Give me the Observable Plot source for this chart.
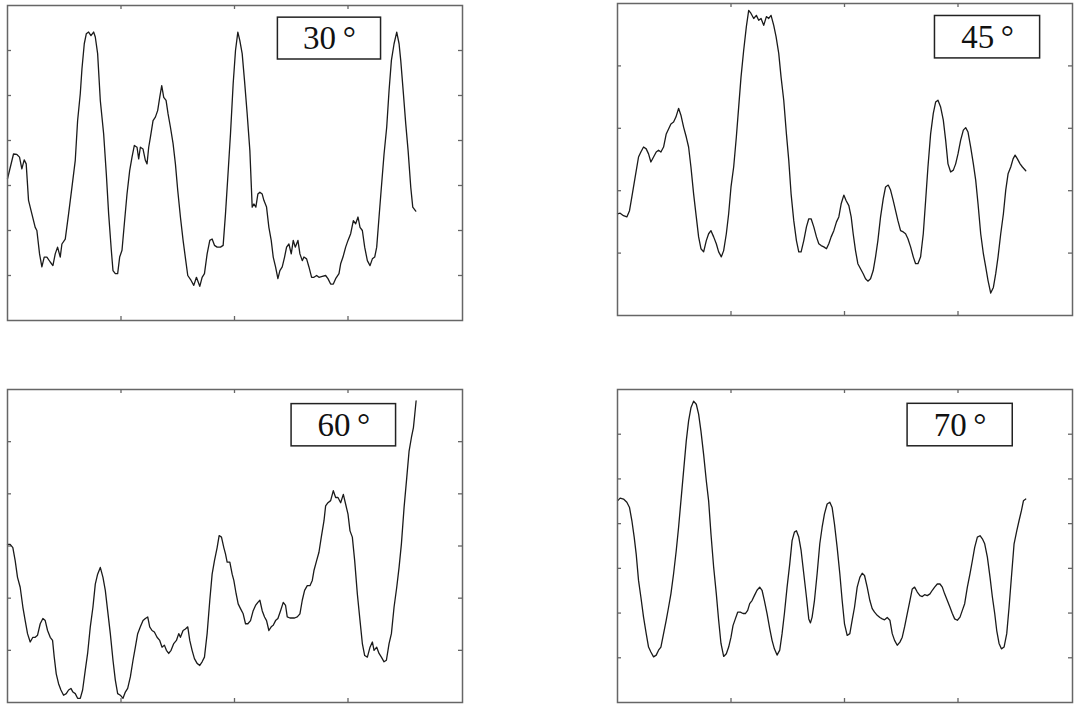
<!DOCTYPE html>
<html><head><meta charset="utf-8">
<script src="https://cdn.jsdelivr.net/npm/d3@7"></script>
<script src="https://cdn.jsdelivr.net/npm/@observablehq/plot@0.6"></script>
<style>
body{margin:0;background:#fff;}
#wrap{position:relative;width:1080px;height:711px;overflow:hidden;}
#wrap > svg{position:absolute;}
</style></head><body><div id="wrap"></div>
<script>
// Sample index (x) and amplitude (y)
const x30=[0,18,28,36,43,50,56,63,73,83,88,96,103,110,118,128,136,143,150,158,163,173,183,193,203,210,218,223,230,236,243,250,258,263,270,278,288,296,303,311,316,323,330,336,343,350,358,366,373,380,388,393,398,406,413,418,423,428,436,443,450,456,462,468,475,481,488,496,503,510,518,526,534,540,550,558,566,576,583,590,598,606,613,620,628,638,646,653,660,668,676,683,690,696,703,710,718,726,733,738,744,750,756,763,768,776,783,790,796,803,810,816,823,830,836,843,850,856,862,870,876,883,888,896,903,911,918,926,933,943,953,960,968,976,983,993,998,1005,1013,1020,1028,1036,1043,1050,1056,1063,1070,1078,1086,1093,1100,1106,1113,1120,1128,1136,1143,1150,1158,1166,1173,1178,1186,1193,1200,1208,1214,1223];
const y30=[3.15,3.70,3.69,3.63,3.37,3.57,3.48,2.67,2.37,2.07,2.00,1.48,1.19,1.41,1.41,1.30,1.22,1.48,1.63,1.41,1.70,1.81,2.37,2.96,3.56,4.44,5.04,5.59,6.15,6.37,6.41,6.33,6.41,6.30,5.93,4.89,4.15,3.26,2.37,1.56,1.11,1.04,1.04,1.41,1.56,2.15,2.81,3.33,3.63,3.89,3.85,3.59,3.85,3.81,3.56,3.48,3.85,4.07,4.44,4.52,4.67,4.96,5.22,4.96,4.89,4.59,4.30,3.93,3.48,2.89,2.30,1.78,1.33,1.00,0.89,0.78,0.96,0.76,0.96,1.04,1.48,1.78,1.81,1.67,1.63,1.63,1.67,2.37,3.19,4.15,5.26,6.00,6.41,6.22,5.93,5.33,4.59,3.78,2.52,2.59,2.52,2.81,2.85,2.81,2.67,2.52,2.07,1.78,1.41,1.19,0.93,1.11,1.19,1.41,1.63,1.70,1.48,1.78,1.63,1.78,1.48,1.33,1.41,1.37,1.19,0.96,0.96,1.00,0.96,0.98,1.00,0.93,0.81,0.81,0.93,1.04,1.26,1.41,1.63,1.78,1.93,2.22,2.15,2.30,2.07,2.00,1.63,1.33,1.22,1.37,1.41,1.63,2.30,2.96,3.70,4.30,5.11,5.78,6.15,6.41,6.15,5.78,5.04,4.37,3.78,2.96,2.52,2.43];

const x45=[0,8,18,28,36,43,53,63,70,78,86,93,100,108,116,123,130,138,146,153,160,168,175,183,190,198,206,213,220,228,236,243,250,258,266,273,280,288,296,303,311,318,326,333,340,348,356,363,370,378,386,393,400,408,416,423,430,438,446,453,460,468,475,483,490,498,506,513,520,528,536,543,550,558,566,573,580,588,596,603,610,618,626,633,640,648,656,663,670,678,685,693,700,706,713,720,728,736,743,750,758,766,773,780,788,796,803,811,818,826,833,840,848,856,863,870,878,886,893,900,908,916,923,930,938,946,953,960,968,976,983,990,998,1006,1013,1020,1028,1036,1043,1050,1058,1066,1073,1080,1088,1096,1103,1110,1118,1126,1133,1140,1148,1156,1163,1170,1178,1185,1191,1198,1206,1213,1223];
const y45=[1.63,1.64,1.60,1.58,1.68,1.90,2.22,2.54,2.62,2.70,2.67,2.59,2.46,2.54,2.62,2.65,2.62,2.70,2.91,2.99,3.07,3.10,3.18,3.32,3.21,3.02,2.86,2.70,2.38,1.95,1.58,1.26,1.07,1.02,1.20,1.31,1.36,1.26,1.15,1.02,0.94,1.04,1.31,1.63,2.06,2.38,2.86,3.34,3.82,4.25,4.63,4.89,4.84,4.76,4.81,4.73,4.76,4.65,4.79,4.76,4.81,4.65,4.47,4.20,3.82,3.45,2.91,2.49,1.95,1.52,1.20,1.02,1.02,1.20,1.42,1.55,1.55,1.42,1.26,1.15,1.12,1.10,1.07,1.15,1.26,1.36,1.50,1.58,1.79,1.93,1.84,1.76,1.58,1.31,1.04,0.83,0.75,0.67,0.59,0.55,0.59,0.72,0.94,1.20,1.58,1.87,2.06,2.09,2.01,1.84,1.68,1.52,1.36,1.34,1.31,1.23,1.10,0.94,0.83,0.83,0.94,1.31,1.84,2.38,2.91,3.24,3.42,3.45,3.34,3.13,2.81,2.43,2.30,2.33,2.43,2.59,2.81,2.97,3.01,2.94,2.70,2.43,2.17,1.79,1.31,0.99,0.78,0.56,0.36,0.45,0.67,0.94,1.31,1.63,2.01,2.27,2.38,2.51,2.57,2.51,2.43,2.38,2.32];

const x60=[0,8,16,23,30,38,46,53,60,68,76,83,90,98,106,113,120,128,135,140,146,153,160,168,176,183,190,196,203,210,218,225,233,240,248,256,263,270,278,286,293,300,308,316,323,330,338,346,353,360,368,376,383,390,398,406,413,420,426,433,440,448,456,463,470,476,483,490,498,506,513,518,526,533,540,546,553,560,568,576,583,590,598,606,613,620,628,634,641,648,653,658,666,673,678,685,691,698,706,713,720,728,736,743,750,756,763,770,776,783,790,796,803,810,818,826,833,838,846,853,860,868,876,883,890,898,906,913,918,926,933,940,948,953,960,968,976,983,990,998,1006,1013,1020,1026,1033,1040,1048,1056,1063,1070,1078,1086,1093,1098,1106,1113,1120,1128,1135,1143,1150,1158,1166,1173,1180,1188,1196,1203,1210,1216,1220,1224];
const y60=[3.03,3.03,2.97,2.72,2.40,2.21,1.83,1.57,1.32,1.16,1.25,1.25,1.29,1.51,1.61,1.57,1.38,1.25,1.19,0.87,0.55,0.36,0.24,0.14,0.17,0.24,0.27,0.20,0.17,0.08,0.08,0.24,0.62,0.94,1.45,1.83,2.27,2.46,2.59,2.40,2.15,1.76,1.32,0.81,0.43,0.17,0.14,0.08,0.20,0.27,0.49,0.81,1.06,1.32,1.45,1.57,1.61,1.64,1.45,1.38,1.35,1.25,1.19,1.06,1.10,1.00,0.94,1.00,1.13,1.19,1.32,1.25,1.38,1.41,1.45,1.19,1.00,0.84,0.75,0.71,0.78,0.87,1.32,1.96,2.46,2.72,2.97,3.20,3.17,2.97,2.85,2.69,2.69,2.46,2.34,2.08,1.89,1.80,1.70,1.51,1.51,1.57,1.76,1.86,1.92,1.96,1.76,1.64,1.57,1.38,1.45,1.48,1.57,1.61,1.76,1.92,1.86,1.64,1.62,1.62,1.62,1.64,1.70,1.96,2.15,2.24,2.24,2.34,2.53,2.72,2.88,3.17,3.48,3.77,3.83,3.87,4.06,3.93,3.93,3.83,3.99,3.80,3.61,3.29,3.17,2.72,2.08,1.57,1.13,0.90,0.87,1.06,1.16,1.00,1.06,0.94,0.87,0.78,0.81,1.13,1.32,1.83,2.21,2.59,3.04,3.74,4.31,4.82,5.08,5.27,5.52,5.78];

const x70=[0,8,18,28,36,43,50,56,63,70,78,86,93,100,108,116,123,130,138,146,153,160,168,176,183,190,198,206,213,220,228,236,243,250,258,266,273,280,288,296,303,310,318,326,333,340,346,353,360,368,376,383,390,396,403,410,418,426,433,440,448,456,463,470,478,486,493,500,508,516,523,530,536,543,550,558,566,573,578,583,590,598,606,613,620,628,636,643,650,658,666,673,680,688,696,703,710,718,726,733,740,748,756,763,770,778,786,793,800,808,816,823,830,838,846,853,860,868,876,883,890,898,906,913,920,928,936,943,950,958,966,973,980,988,996,1003,1010,1018,1026,1033,1040,1048,1056,1063,1070,1078,1086,1093,1100,1108,1116,1123,1130,1136,1143,1150,1158,1166,1173,1180,1188,1196,1203,1210,1216,1223];
const y70=[4.51,4.57,4.55,4.48,4.36,4.07,3.70,3.32,2.73,2.36,1.91,1.54,1.24,1.13,1.02,1.06,1.17,1.24,1.54,1.84,2.13,2.43,2.88,3.40,3.92,4.51,5.18,5.85,6.30,6.59,6.74,6.67,6.45,6.07,5.55,4.96,4.51,3.77,3.03,2.43,1.84,1.32,1.03,1.09,1.24,1.46,1.72,1.87,2.02,2.02,1.99,1.99,2.06,2.21,2.28,2.39,2.51,2.58,2.51,2.28,1.99,1.65,1.39,1.20,1.06,1.17,1.54,1.99,2.58,3.10,3.62,3.81,3.84,3.70,3.40,2.88,2.36,1.87,1.78,1.91,2.28,2.88,3.55,3.92,4.22,4.44,4.48,4.36,3.99,3.47,2.88,2.28,1.76,1.50,1.54,1.84,2.13,2.58,2.80,2.89,2.84,2.58,2.28,2.10,2.02,1.95,1.90,1.87,1.85,1.90,1.84,1.54,1.39,1.28,1.35,1.46,1.69,1.99,2.28,2.54,2.58,2.47,2.39,2.37,2.41,2.39,2.43,2.51,2.58,2.65,2.65,2.58,2.43,2.28,2.13,1.99,1.87,1.84,1.91,2.06,2.21,2.58,2.88,3.17,3.47,3.70,3.73,3.66,3.55,3.25,2.80,2.36,1.99,1.61,1.32,1.20,1.24,1.54,2.13,2.80,3.55,3.84,4.07,4.29,4.51,4.55];

const labels=["30\u2009°","45\u2009°","60\u2009°","70\u2009°"];
const xTicks=[340,680,1020];
const yTicks30=[1,2,3,4,5,6];
const yTicks45=[1,2,3,4];
const yTicks60=[1,2,3,4,5];
const yTicks70=[1,2,3,4,5,6];

// layout (pixels) and annotation boxes (in data units)
const XMAX=1363, M=3, W=455;
const panels=[
  {xs:x30,ys:y30,label:labels[0],yMax:7,yTicks:yTicks30,left:7,top:5,h:315,box:[810,1119,5.80,6.73]},
  {xs:x45,ys:y45,label:labels[1],yMax:5,yTicks:yTicks45,left:617,top:3,h:312,box:[951,1266,4.12,4.80]},
  {xs:x60,ys:y60,label:labels[2],yMax:6,yTicks:yTicks60,left:7,top:389,h:313,box:[851,1164,4.91,5.72]},
  {xs:x70,ys:y70,label:labels[3],yMax:7,yTicks:yTicks70,left:617,top:389,h:313,box:[869,1184,5.73,6.68]}
];
const wrap=document.getElementById("wrap");
const axisColor="#666";
for(const p of panels){
  const n=Math.min(p.xs.length,p.ys.length);
  const data=d3.range(n).map(i=>({x:p.xs[i],y:p.ys[i]}));
  const tl=4; // tick length px
  const tx=tl/W*XMAX, ty=tl/p.h*p.yMax;
  const b=p.box;
  const svg=Plot.plot({
    width:W+2*M,height:p.h+2*M,
    marginTop:M,marginBottom:M,marginLeft:M,marginRight:M,
    x:{domain:[0,XMAX],axis:null},
    y:{domain:[0,p.yMax],axis:null},
    marks:[
      Plot.ruleX(xTicks,{x:d=>d,y1:0,y2:ty,stroke:axisColor,strokeWidth:1.3}),
      Plot.ruleX(xTicks,{x:d=>d,y1:p.yMax-ty,y2:p.yMax,stroke:axisColor,strokeWidth:1.3}),
      Plot.ruleY(p.yTicks,{y:d=>d,x1:0,x2:tx,stroke:axisColor,strokeWidth:1.3}),
      Plot.ruleY(p.yTicks,{y:d=>d,x1:XMAX-tx,x2:XMAX,stroke:axisColor,strokeWidth:1.3}),
      Plot.line(data,{x:"x",y:"y",stroke:"#1a1a1a",strokeWidth:1.3}),
      Plot.rect([b],{x1:d=>d[0],x2:d=>d[1],y1:d=>d[2],y2:d=>d[3],fill:"white",stroke:"#222",strokeWidth:1.5}),
      Plot.text([p.label],{x:(b[0]+b[1])/2,y:(b[2]+b[3])/2,text:d=>d,fontSize:33,fontFamily:"Liberation Serif",fill:"#111"}),
      Plot.frame({stroke:axisColor,strokeWidth:1.5})
    ]
  });
  svg.style.left=(p.left-M)+"px";
  svg.style.top=(p.top-M)+"px";
  wrap.appendChild(svg);
}
</script></body></html>
